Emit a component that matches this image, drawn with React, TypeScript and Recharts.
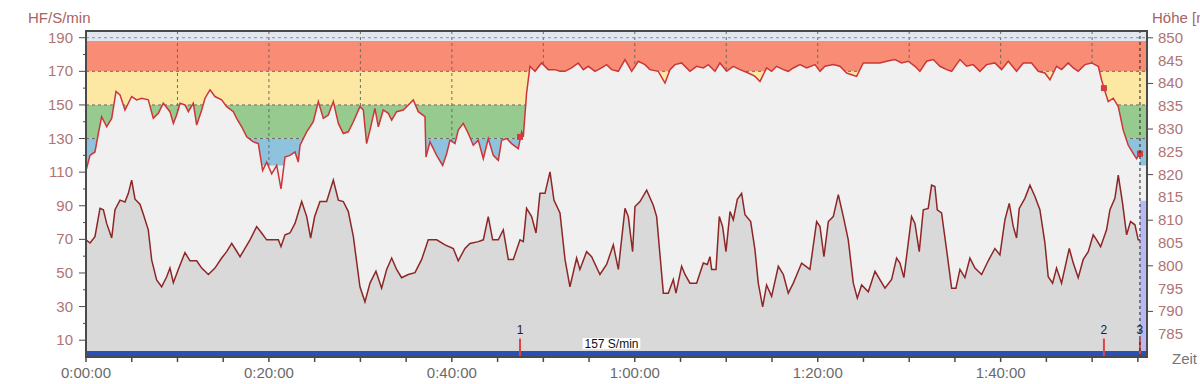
import React from "react";
import {
  ComposedChart,
  Area,
  Scatter,
  XAxis,
  YAxis,
  CartesianGrid,
  ReferenceArea,
  ReferenceLine,
} from "recharts";

// [minute, beats or steps per minute]
const heartRate: [number, number][] = [
  [0, 111], [0.44, 120], [0.98, 122], [1.35, 133], [1.71, 143], [2.26, 137], [2.81, 142], [3.28, 158],
  [3.72, 156], [4.26, 147], [4.99, 155], [5.54, 153], [6.09, 154], [6.81, 153], [7.36, 142], [7.91, 145],
  [8.45, 151], [9.18, 146], [9.55, 139], [9.91, 144], [10.28, 151], [10.82, 150], [11.19, 146], [11.73, 151],
  [12.1, 138], [12.65, 147], [13.01, 154], [13.56, 159], [14.1, 155], [14.83, 153], [15.38, 149], [16.11, 146],
  [16.47, 142], [17.02, 137], [17.57, 131], [18.29, 128], [18.84, 127], [19.31, 111], [19.75, 116], [20.3, 109],
  [20.85, 114], [21.32, 100], [21.76, 119], [22.3, 120], [22.85, 122], [23.21, 116], [23.4, 126], [24.13, 134],
  [24.85, 140], [25.4, 152], [25.95, 142], [26.49, 144], [27.04, 152], [27.59, 139], [28.13, 133], [28.68, 134],
  [29.23, 140], [29.95, 149], [30.32, 147], [30.68, 127], [31.05, 135], [31.59, 148], [31.96, 137], [32.5, 147],
  [33.05, 145], [33.42, 141], [33.96, 146], [34.69, 147], [35.24, 150], [35.78, 153], [36.33, 146], [37.06, 143],
  [37.17, 119], [37.61, 128], [38.34, 120], [38.99, 114], [39.43, 121], [39.79, 129], [40.34, 127], [40.7, 135],
  [41.25, 139], [41.8, 133], [42.34, 126], [42.89, 129], [43.44, 118], [43.98, 130], [44.53, 120], [45.08, 117],
  [45.44, 129], [45.99, 130], [46.53, 127], [47.26, 124], [47.63, 134], [47.81, 131], [48.17, 157], [48.54, 173],
  [49.09, 170], [49.81, 175], [50.54, 171], [51.27, 171], [51.82, 170], [52.37, 170], [53.09, 172], [53.82, 175],
  [54.37, 171], [54.92, 173], [55.65, 170], [56.37, 172], [56.92, 174], [57.47, 171], [58.2, 170], [58.93, 177],
  [59.66, 170], [60.38, 176], [61.11, 174], [61.66, 171], [62.57, 170], [63.3, 163], [63.85, 171], [64.39, 174],
  [65.12, 175], [66.03, 170], [66.76, 173], [67.49, 172], [68.04, 174], [68.77, 170], [69.31, 175], [70.04, 170],
  [70.77, 173], [71.5, 171], [72.41, 169], [73.15, 167], [73.69, 164], [74.41, 172], [74.96, 170], [75.51, 173],
  [76.24, 171], [76.78, 170], [77.33, 172], [78.06, 174], [78.79, 172], [79.7, 174], [80.25, 170], [80.79, 173],
  [81.7, 174], [82.43, 173], [83.16, 169], [83.71, 168], [84.25, 167], [84.98, 175], [86.08, 175], [86.8, 175],
  [87.53, 176], [88.44, 177], [89.17, 175], [89.9, 176], [90.63, 173], [91.17, 170], [91.9, 176], [92.63, 177],
  [93.36, 173], [94.09, 171], [94.64, 170], [95.55, 177], [96.28, 173], [97.0, 174], [97.73, 170], [98.46, 174],
  [99.37, 175], [100.1, 171], [100.83, 176], [101.74, 170], [102.47, 175], [103.38, 175], [104.11, 170], [104.84, 169],
  [105.39, 165], [106.11, 173], [106.66, 171], [107.39, 175], [107.94, 172], [108.48, 170], [109.21, 174], [109.94, 175],
  [110.67, 173], [111.03, 165], [111.29, 160], [111.76, 152], [112.31, 154], [112.86, 149], [113.4, 135], [113.95, 126],
  [114.5, 121], [114.86, 118], [115.23, 121],
];

// [minute, metres]
const altitude: [number, number][] = [
  [0, 805.7], [0.44, 805], [0.98, 806.4], [1.53, 812.6], [1.9, 812.3], [2.26, 809.3], [2.81, 806.1], [3.17, 812.3],
  [3.72, 814.4], [4.26, 814], [4.63, 815.9], [4.99, 818.8], [5.36, 814.6], [5.9, 813.5], [6.27, 811.3], [6.81, 807.9],
  [7.18, 801.3], [7.72, 796.9], [8.27, 795.4], [8.82, 797.6], [9.18, 799.5], [9.55, 796.3], [10.09, 799.2], [10.82, 802.9],
  [11.37, 801.1], [12.1, 801.1], [12.65, 799.5], [13.38, 798.1], [14.1, 799.5], [14.83, 801.7], [15.38, 803.1], [15.93, 804.9],
  [16.29, 803.8], [16.84, 802], [17.38, 803.8], [17.93, 805.7], [18.66, 808.6], [19.2, 807.2], [19.75, 805.7], [20.48, 805.7],
  [21.03, 805.7], [21.32, 804.2], [21.76, 806.8], [22.3, 807.2], [22.85, 809.3], [23.58, 814.1], [24.13, 810.8], [24.56, 806.1],
  [25, 810.8], [25.58, 814.1], [26.31, 814.1], [27.04, 818.8], [27.59, 814.4], [28.13, 814.1], [28.68, 811.9], [29.23, 806.4],
  [29.95, 795.4], [30.5, 792.1], [31.05, 796.2], [31.7, 798.8], [32.32, 795.1], [32.87, 799.2], [33.42, 801.7], [33.96, 799.2],
  [34.5, 797.4], [35.24, 798.1], [35.97, 798.5], [36.7, 801.4], [37.42, 805.7], [38.34, 805.7], [39.25, 804.6], [40.16, 803.8],
  [40.7, 801.1], [41.43, 803.8], [41.98, 804.9], [42.89, 805.3], [43.44, 805.7], [43.98, 810.8], [44.46, 805.7], [45.08, 805.7],
  [45.62, 807.9], [46.17, 801.4], [46.72, 801.4], [47.45, 805.7], [47.81, 805.3], [48.17, 812.6], [48.72, 810.8], [49.2, 807.2],
  [49.63, 815.9], [50.18, 815.9], [50.73, 820.6], [51.16, 814.4], [51.82, 811.6], [52.37, 801.4], [52.91, 795.4], [53.64, 801.7],
  [54, 799.2], [54.73, 803.1], [55.28, 802], [56.19, 798.1], [56.92, 800.3], [57.65, 804.6], [58.2, 799.2], [58.93, 812.6],
  [59.29, 810.8], [59.76, 803.1], [60.02, 813], [60.57, 814.1], [61.3, 816.6], [62.02, 813.3], [62.39, 810.8], [63.12, 794],
  [63.66, 794], [64.21, 797], [64.5, 794], [65.12, 799.9], [65.49, 798.1], [66.03, 796.2], [66.76, 796.2], [67.49, 800.6],
  [67.93, 800.3], [68.22, 802], [68.4, 799.2], [68.88, 799.2], [69.24, 810.8], [69.6, 808.6], [69.97, 803.1], [70.41, 811.9],
  [70.77, 810.1], [71.21, 814.6], [71.68, 815.9], [72.05, 811.2], [72.67, 809.7], [73.14, 803.5], [73.5, 796.2], [73.98, 791],
  [74.41, 795.8], [74.96, 793.3], [75.69, 799.9], [76.24, 798.1], [76.78, 794], [77.33, 796.2], [78.24, 800.6], [79.15, 799.2],
  [79.88, 809.7], [80.25, 808.6], [80.68, 802], [81.16, 809.7], [81.7, 810.8], [82.25, 815.6], [82.8, 810.8], [83.34, 805.7],
  [83.89, 796.2], [84.33, 792.9], [84.8, 795.8], [85.53, 794.3], [86.26, 798.8], [87.35, 795.1], [88.08, 797], [88.62, 801.7],
  [88.99, 800.6], [89.42, 797.4], [90.26, 810.8], [90.63, 809.3], [91.1, 803.1], [91.54, 812.3], [92.08, 812.6], [92.45, 817.7],
  [92.81, 817.4], [93.07, 812.3], [93.54, 811.6], [94.09, 803.5], [94.64, 795.1], [95.11, 795.1], [95.55, 799.2], [96.09, 797.4],
  [96.64, 801.7], [97.19, 799.5], [97.92, 798.1], [98.64, 801.1], [99.37, 803.8], [99.92, 802.4], [100.47, 810.1], [100.94, 813.7],
  [101.38, 808.6], [101.74, 806.1], [102.03, 812.6], [102.65, 814.8], [103.2, 817.7], [103.75, 815.2], [104.29, 812.3], [104.84, 805],
  [105.2, 797.6], [105.68, 796.2], [106.11, 799.5], [106.66, 796.2], [107.5, 803.8], [107.94, 800.6], [108.48, 797.4], [109.03, 801.4],
  [109.58, 803.1], [110.12, 806.8], [110.49, 805.7], [110.93, 804.2], [111.58, 807.9], [111.95, 812.3], [112.49, 814.8], [112.86, 819.9],
  [113.33, 813.7], [113.77, 806.8], [114.2, 809.7], [114.68, 809], [115.04, 805.7], [115.23, 805.7],
];

// heart-rate zones: [from, to, colour]
const zones: [number, number, string][] = [
  [114, 130, "#8fc2dc"],
  [130, 150, "#97ca8f"],
  [150, 170, "#fde8a3"],
  [170, 188, "#f98c74"],
];

const markerMinutes = [47.45, 111.29, 115.23];
const markerNames = ["1", "2", "3"];
const markerBpm = [131, 160, 121];

const hfTicks = [10, 20, 30, 40, 50, 60, 70, 80, 90, 100, 110, 120, 130, 140, 150, 160, 170, 180, 190];
const altTicks = [785, 790, 795, 800, 805, 810, 815, 820, 825, 830, 835, 840, 845, 850];
const timeTicks = [0, 5, 10, 15, 20, 25, 30, 35, 40, 45, 50, 55, 60, 65, 70, 75, 80, 85, 90, 95, 100, 105, 110, 115];
const gridMinutes = [10, 20, 30, 40, 50, 60, 70, 80, 90, 100, 110];
const gridBpm = [130, 150, 170];

const END = 115.23;
const X_MAX = 116;
const HF_MAX = 194;
const ALT_DOMAIN: [number, number] = [780, 851.5];

// plot frame (layout)
const LEFT_W = 86;
const RIGHT_W = 53;
const TOP = 31;
const BOTTOM_H = 27;
const W = 1200;
const H = 384;
const PLOT_LEFT = LEFT_W;
const PLOT_RIGHT = W - RIGHT_W;
const PLOT_BOTTOM = H - BOTTOM_H;

const rows = [
  ...heartRate.map(([t, hr]) => ({ t, hr })),
  ...altitude.map(([t, alt]) => ({ t, alt })),
].sort((a, b) => a.t - b.t);

const markerRows = markerMinutes.map((t, i) => ({ t, hr: markerBpm[i] }));

const FONT = "'Liberation Sans', Arial, sans-serif";
const AXIS = "#4a4a4a";
const TICK_TEXT = "#b07474";

function fmtTime(m: number) {
  const h = Math.floor(m / 60);
  const mm = m % 60;
  return `${h}:${mm < 10 ? "0" : ""}${mm}:00`;
}

const LeftTick = (p: any) => {
  const v = p.payload.value;
  const y = p.payload.coordinate ?? p.y;
  const major = (v - 10) % 20 === 0;
  return (
    <g>
      <line x1={PLOT_LEFT - (major ? 7 : 3)} x2={PLOT_LEFT} y1={y} y2={y} stroke={AXIS} strokeWidth={1} />
      {major && (
        <text x={PLOT_LEFT - 13} y={y + 5} textAnchor="end" fill={TICK_TEXT} fontSize={15}>
          {v}
        </text>
      )}
    </g>
  );
};

const RightTick = (p: any) => {
  const v = p.payload.value;
  const y = p.payload.coordinate ?? p.y;
  return (
    <g>
      {v % 10 === 0 && <line x1={PLOT_RIGHT} x2={PLOT_RIGHT + 6} y1={y} y2={y} stroke={AXIS} strokeWidth={1} />}
      <text x={PLOT_RIGHT + 11} y={y + 5} textAnchor="start" fill={TICK_TEXT} fontSize={15}>
        {v}
      </text>
    </g>
  );
};

const TimeTick = (p: any) => {
  const v = p.payload.value;
  const x = p.payload.coordinate ?? p.x;
  return (
    <g>
      <line x1={x} x2={x} y1={PLOT_BOTTOM} y2={PLOT_BOTTOM + 5} stroke={AXIS} strokeWidth={1.5} />
      {v % 20 === 0 && (
        <text x={x} y={PLOT_BOTTOM + 21} textAnchor="middle" fill="#6a6a6a" fontSize={15}>
          {fmtTime(v)}
        </text>
      )}
    </g>
  );
};

const Square = (p: any) => (
  <rect x={p.cx - 3} y={p.cy - 3} width={6} height={6} fill="#d63a3a" />
);

export default function App() {
  return (
    <div style={{ position: "absolute", left: 0, top: 0, width: W, height: H, background: "#fff", fontFamily: FONT }}>
      <ComposedChart
        width={W}
        height={H}
        data={rows}
        margin={{ top: TOP, right: 0, bottom: 0, left: 0 }}
        style={{ fontFamily: FONT }}
      >
        <XAxis
          xAxisId="t"
          dataKey="t"
          type="number"
          domain={[0, X_MAX]}
          allowDataOverflow
          ticks={timeTicks}
          interval={0}
          height={BOTTOM_H}
          tickLine={false}
          tick={TimeTick}
          axisLine={{ stroke: AXIS, strokeWidth: 2 }}
        />
        <YAxis
          yAxisId="hf"
          type="number"
          domain={[0, HF_MAX]}
          allowDataOverflow
          ticks={hfTicks}
          interval={0}
          width={LEFT_W}
          tickLine={false}
          tick={LeftTick}
          axisLine={{ stroke: AXIS, strokeWidth: 2 }}
        />
        <YAxis
          yAxisId="alt"
          orientation="right"
          type="number"
          domain={ALT_DOMAIN}
          allowDataOverflow
          ticks={altTicks}
          interval={0}
          width={RIGHT_W}
          tickLine={false}
          tick={RightTick}
          axisLine={{ stroke: AXIS, strokeWidth: 2 }}
        />
        <XAxis
          xAxisId="grid"
          dataKey="t"
          type="number"
          domain={[0, X_MAX]}
          allowDataOverflow
          ticks={gridMinutes}
          height={0}
          hide
        />
        <YAxis yAxisId="grid" type="number" domain={[0, HF_MAX]} allowDataOverflow ticks={gridBpm} width={0} hide />

        {/* plot background and zones */}
        <ReferenceArea xAxisId="t" yAxisId="hf" x1={0} x2={X_MAX} y1={0} y2={HF_MAX} fill="#f0f0f0" fillOpacity={1} stroke="none" zIndex={-300} />
        <ReferenceArea xAxisId="t" yAxisId="hf" x1={0} x2={X_MAX} y1={188} y2={HF_MAX} fill="#e2e6ed" fillOpacity={1} stroke="none" zIndex={-200} />
        {zones.map(([from, to, color]) => (
          <ReferenceArea
            key={from}
            xAxisId="t"
            yAxisId="hf"
            x1={0}
            x2={X_MAX}
            y1={from}
            y2={to}
            fill={color}
            fillOpacity={1}
            stroke="none"
            zIndex={-200}
          />
        ))}
        <CartesianGrid
          xAxisId="grid"
          yAxisId="grid"
          stroke="#6b6b6b"
          strokeDasharray="3 3"
          fill="none"
          zIndex={-100}
        />
        <ReferenceLine xAxisId="t" yAxisId="hf" y={190} stroke="#7d93b3" strokeDasharray="3 3" zIndex={-90} />

        <Area
          xAxisId="t"
          yAxisId="hf"
          dataKey="hr"
          type="linear"
          stroke="#cc3636"
          strokeWidth={1.5}
          fill="#f0f0f0"
          fillOpacity={1}
          connectNulls
          dot={false}
          activeDot={false}
          isAnimationActive={false}
          zIndex={100}
        />
        <Area
          xAxisId="t"
          yAxisId="alt"
          dataKey="alt"
          type="linear"
          stroke="#8e2626"
          strokeWidth={1.5}
          fill="#d9d9d9"
          fillOpacity={1}
          connectNulls
          dot={false}
          activeDot={false}
          isAnimationActive={false}
          zIndex={110}
        />

        <ReferenceArea xAxisId="t" yAxisId="hf" x1={END} x2={X_MAX} y1={0} y2={93} fill="#b9b9f2" fillOpacity={1} stroke="none" zIndex={120} />
        <ReferenceArea xAxisId="t" yAxisId="hf" x1={0} x2={X_MAX} y1={0} y2={3.6} fill="#2a50b4" fillOpacity={1} stroke="none" zIndex={130} />
        <ReferenceArea
          xAxisId="t"
          yAxisId="hf"
          x1={54.3}
          x2={60.6}
          y1={4.6}
          y2={11.3}
          fill="#ffffff"
          fillOpacity={1}
          stroke="none"
          zIndex={140}
          label={{ value: "157 S/min", position: "center", fill: "#111", fontSize: 12 }}
        />
        {markerMinutes.map((m, i) => (
          <ReferenceLine
            key={m}
            xAxisId="t"
            yAxisId="hf"
            segment={[{ x: m, y: 0 }, { x: m, y: 11 }]}
            stroke="#e04545"
            strokeWidth={2}
            zIndex={150}
            label={{ value: markerNames[i], position: "top", fill: "#222", fontSize: 12 }}
          />
        ))}
        <Scatter
          xAxisId="t"
          yAxisId="hf"
          data={markerRows}
          dataKey="hr"
          shape={Square}
          isAnimationActive={false}
          zIndex={160}
        />
        <ReferenceLine xAxisId="t" yAxisId="hf" x={END} stroke="#222" strokeDasharray="3 3" zIndex={170} />
        <ReferenceArea
          xAxisId="t"
          yAxisId="hf"
          x1={0}
          x2={X_MAX}
          y1={0}
          y2={HF_MAX}
          fill="none"
          stroke={AXIS}
          strokeWidth={2}
          zIndex={200}
        />
      </ComposedChart>

      <div style={{ position: "absolute", left: 28, top: 9, fontSize: 15, color: "#a86262" }}>HF/S/min</div>
      <div style={{ position: "absolute", left: 1152, top: 9, fontSize: 15, color: "#a86262", whiteSpace: "nowrap" }}>
        Höhe [m]
      </div>
      <div style={{ position: "absolute", left: 1172, top: 350, fontSize: 15, color: "#777" }}>Zeit</div>
    </div>
  );
}
